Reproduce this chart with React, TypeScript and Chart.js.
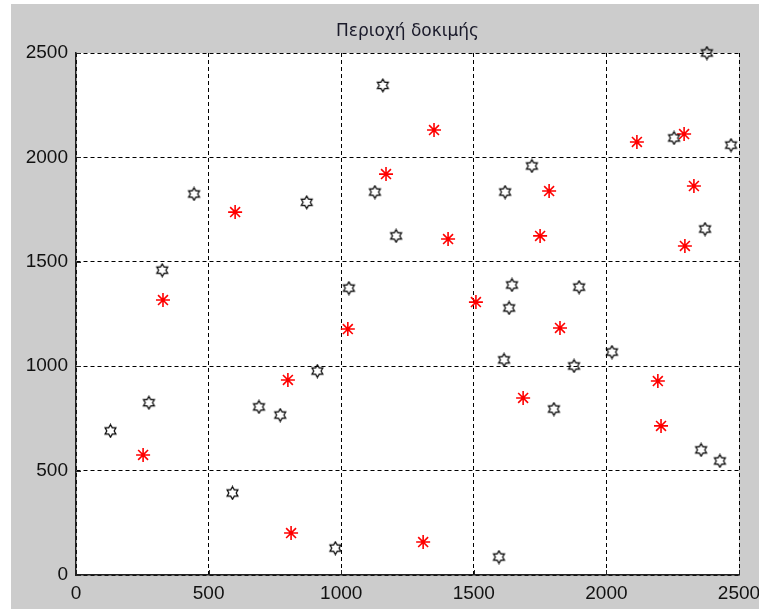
import React, { useEffect, useRef } from 'react';
import { Chart, registerables } from 'chart.js';

Chart.register(...registerables);

const TITLE = 'Περιοχή δοκιμής';
const X_TICKS = [0, 500, 1000, 1500, 2000, 2500];
const Y_TICKS = [0, 500, 1000, 1500, 2000, 2500];

const BLACK_X = [130, 275, 325, 445, 870, 590, 690, 770, 910, 978, 1029, 1157, 1127, 1207, 1618, 1719, 1644, 1897, 1633, 1614, 1878, 2021, 1802, 1595, 2357, 2428, 2372, 2255, 2470, 2379];
const BLACK_Y = [690, 825, 1460, 1825, 1785, 393, 805, 766, 977, 129, 1374, 2345, 1834, 1624, 1834, 1959, 1389, 1379, 1279, 1030, 1001, 1068, 795, 86, 599, 546, 1657, 2093, 2059, 2500];

const RED_X = [253, 328, 600, 799, 811, 1025, 1169, 1350, 1403, 1508, 1309, 1686, 1825, 1784, 1750, 2115, 2293, 2330, 2296, 2194, 2206];
const RED_Y = [575, 1317, 1738, 934, 201, 1178, 1920, 2131, 1609, 1307, 158, 848, 1183, 1839, 1624, 2074, 2112, 1863, 1576, 929, 714];

function makeHexagram(): HTMLCanvasElement {
  const s = 15;
  const c = document.createElement('canvas');
  c.width = s;
  c.height = s;
  const ctx = c.getContext('2d')!;
  const cx = s / 2;
  const cy = s / 2;
  const R = 6.3;
  const r = R / Math.sqrt(3);
  ctx.beginPath();
  for (let i = 0; i < 12; i++) {
    const a = -Math.PI / 2 + (i * Math.PI) / 6;
    const rad = i % 2 === 0 ? R : r;
    const px = cx + rad * Math.cos(a);
    const py = cy + rad * Math.sin(a);
    if (i === 0) ctx.moveTo(px, py);
    else ctx.lineTo(px, py);
  }
  ctx.closePath();
  ctx.strokeStyle = '#000';
  ctx.lineWidth = 1.2;
  ctx.stroke();
  return c;
}

const whiteArea = {
  id: 'whiteArea',
  beforeDraw(chart: any) {
    const { ctx, chartArea } = chart;
    ctx.save();
    ctx.fillStyle = '#ffffff';
    ctx.fillRect(chartArea.left, chartArea.top, chartArea.right - chartArea.left, chartArea.bottom - chartArea.top);
    ctx.restore();
  },
};

const inwardTicks = {
  id: 'inwardTicks',
  afterDraw(chart: any) {
    const { ctx, chartArea, scales } = chart;
    ctx.save();
    ctx.strokeStyle = '#222';
    ctx.lineWidth = 1;
    ctx.setLineDash([]);
    const len = 5;
    X_TICKS.forEach((v) => {
      const x = Math.round(scales.x.getPixelForValue(v)) + 0.5;
      ctx.beginPath();
      ctx.moveTo(x, chartArea.bottom);
      ctx.lineTo(x, chartArea.bottom - len);
      ctx.stroke();
    });
    Y_TICKS.forEach((v) => {
      const y = Math.round(scales.y.getPixelForValue(v)) + 0.5;
      ctx.beginPath();
      ctx.moveTo(chartArea.left, y);
      ctx.lineTo(chartArea.left + len, y);
      ctx.stroke();
    });
    ctx.restore();
  },
};

export default function App() {
  const ref = useRef<HTMLCanvasElement | null>(null);

  useEffect(() => {
    if (!ref.current) return;
    const hex = makeHexagram();
    const tickFont = { family: "'Liberation Sans', Arial, sans-serif", size: 19 };
    const chart = new Chart(ref.current, {
      type: 'scatter',
      data: {
        datasets: [
          {
            label: 'black',
            data: BLACK_X.map((x, i) => ({ x, y: BLACK_Y[i] })),
            pointStyle: hex as any,
            pointRadius: 7,
            clip: false as any,
          },
          {
            label: 'red',
            data: RED_X.map((x, i) => ({ x, y: RED_Y[i] })),
            pointStyle: 'star',
            pointRadius: 7,
            borderColor: '#ff0000',
            backgroundColor: '#ff0000',
            borderWidth: 1.6,
            clip: false as any,
          },
        ],
      },
      options: {
        animation: false,
        responsive: false,
        maintainAspectRatio: false,
        layout: { padding: { left: 16, right: 20, top: 0, bottom: 0 } },
        plugins: {
          legend: { display: false },
          tooltip: { enabled: false },
          title: {
            display: true,
            fullSize: false,
            text: TITLE,
            color: '#1a1a2a',
            font: { family: "'DejaVu Sans', Verdana, sans-serif", size: 17, weight: 'normal' as any, lineHeight: 1.2 },
            padding: { top: 21, bottom: 11.6 },
          },
        },
        scales: {
          x: {
            type: 'linear',
            min: 0,
            max: 2500,
            afterBuildTicks: (s: any) => {
              s.ticks = X_TICKS.map((v) => ({ value: v }));
            },
            afterFit: (s: any) => {
              s.height = 34;
              s.paddingLeft = 0;
              s.paddingRight = 0;
            },
            ticks: {
              padding: 7,
              color: '#111',
              font: tickFont,
              maxRotation: 0,
              autoSkip: false,
              callback: (v: any) => String(v),
            },
            grid: { color: '#000', lineWidth: 1, drawTicks: false },
            border: { display: true, color: '#222', width: 1.5, dash: [4, 3] },
          },
          y: {
            type: 'linear',
            min: 0,
            max: 2500,
            afterBuildTicks: (s: any) => {
              s.ticks = Y_TICKS.map((v) => ({ value: v }));
            },
            afterFit: (s: any) => {
              s.width = 60;
              s.paddingTop = 0;
              s.paddingBottom = 0;
            },
            ticks: {
              padding: 8,
              color: '#111',
              font: tickFont,
              autoSkip: false,
              callback: (v: any) => String(v),
            },
            grid: { color: '#000', lineWidth: 1, drawTicks: false },
            border: { display: true, color: '#222', width: 1.5, dash: [4, 3] },
          },
        },
      },
      plugins: [whiteArea, inwardTicks],
    });
    return () => chart.destroy();
  }, []);

  return (
    <div style={{ position: 'absolute', left: 0, top: 0, width: 759, height: 609, background: '#ffffff', overflow: 'hidden' }}>
      <div style={{ position: 'absolute', left: 11, top: 4, right: 0, bottom: 0, background: '#cccccc' }} />
      <canvas ref={ref} width={759} height={609} style={{ position: 'absolute', left: 0, top: 0, width: 759, height: 609 }} />
    </div>
  );
}
